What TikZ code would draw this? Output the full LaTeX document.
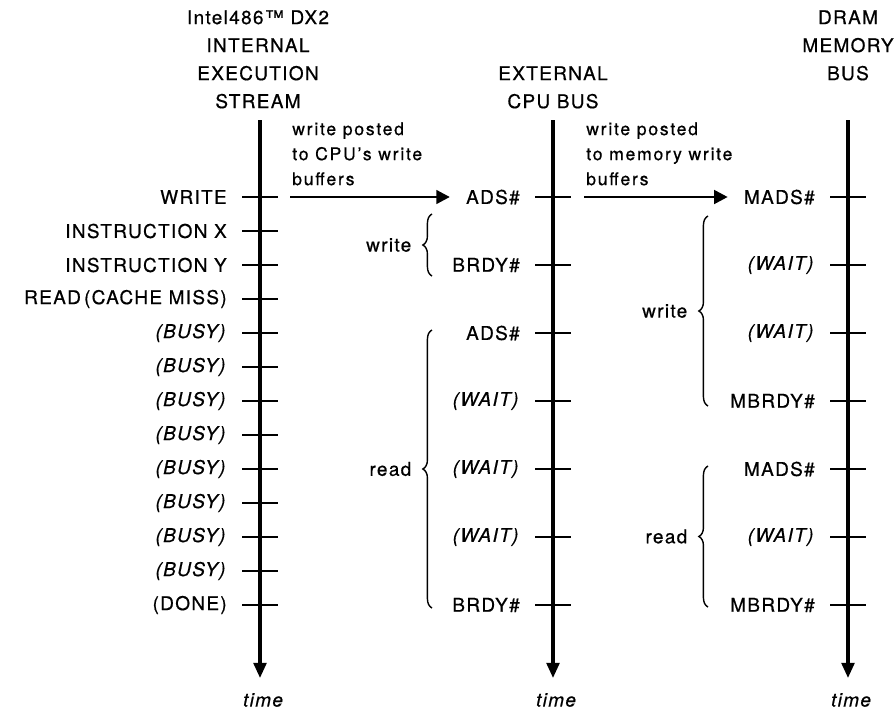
\documentclass[tikz,border=0pt]{standalone}
\usepackage{fontspec}
\setmainfont{TeX Gyre Heros}[LetterSpace=7,FakeBold=0.6]
\usetikzlibrary{arrows.meta,decorations.pathreplacing}

\newcommand{\busy}{\textit{(BUSY)}}
\newcommand{\waitcyc}{\textit{(WAIT)}}

\tikzset{
  axis/.style={line width=2.3pt,-{Triangle[length=0.38cm,width=0.32cm]}},
  ticmark/.style={line width=2pt},
  sig/.style={anchor=east,inner sep=0pt,font=\fontsize{13.5}{16}\selectfont},
  head/.style={anchor=north,align=center,inner sep=0pt,font=\fontsize{13.5}{19.9}\selectfont},
  clock/.style={inner sep=0pt,font=\fontsize{13.5}{16}\selectfont\itshape},
  note/.style={anchor=north west,align=left,inner sep=0pt,
    font=\fontsize{12.5}{17.8}\selectfont\addfontfeature{LetterSpace=10}},
  post/.style={line width=2pt,-{Triangle[length=0.34cm,width=0.34cm]},shorten >=0.4cm},
  grp/.style={decorate,decoration={brace,amplitude=6.5pt},line width=1pt},
  grplabel/.style={midway,left=0.5cm,inner sep=0pt,font=\fontsize{13.5}{16}\selectfont},
}

\begin{document}
\begin{tikzpicture}[x=0.025cm,y=-0.025cm]
\useasboundingbox (0,0) rectangle (894,725);

% column headings
\node[head] (ex-head) at (258,10) {Intel486™ DX2\\INTERNAL\\EXECUTION\\STREAM};
\node[head] (cpu-head) at (553,66) {EXTERNAL\\CPU BUS};
\node[head] (mem-head) at (848,10) {DRAM\\MEMORY\\BUS};

% the three time lines
\foreach \name/\x in {ex/260,cpu/553,mem/848}{
  \coordinate (\name-top) at (\x,120);
  \coordinate (\name-end) at (\x,678);
  \draw[axis] (\name-top) -- (\name-end);
  \node[clock] (\name-time) at ({\x+3},700) {time};
}

% internal execution stream, one tick per clock
\foreach \k/\txt in {0/WRITE,1/INSTRUCTION X,2/INSTRUCTION Y,
    3/READ\,(CACHE MISS),4/\busy,5/\busy,6/\busy,7/\busy,
    8/\busy,9/\busy,10/\busy,11/\busy,12/(DONE)}{
  \draw[ticmark] (242,{197+34*\k}) -- (278,{197+34*\k});
  \node[sig] (ex-\k) at (227,{197+34*\k}) {\txt};
}

% external cpu bus
\foreach \k/\txt in {0/ADS\#,2/BRDY\#,4/ADS\#,6/\waitcyc,
    8/\waitcyc,10/\waitcyc,12/BRDY\#}{
  \draw[ticmark] (535,{197+34*\k}) -- (571,{197+34*\k});
  \node[sig] (cpu-\k) at (520,{197+34*\k}) {\txt};
}

% dram memory bus
\foreach \k/\txt in {0/MADS\#,2/\waitcyc,4/\waitcyc,6/MBRDY\#,
    8/MADS\#,10/\waitcyc,12/MBRDY\#}{
  \draw[ticmark] (830,{197+34*\k}) -- (866,{197+34*\k});
  \node[sig] (mem-\k) at (815,{197+34*\k}) {\txt};
}

% posted writes
\coordinate (wr-out) at (290,197);
\coordinate (ads-out) at (584,197);
\draw[post] (wr-out) -- (cpu-0);
\draw[post] (ads-out) -- (mem-0);
\node[note] (cpu-note) at (292,122) {write posted\\to CPU's write\\buffers};
\node[note] (mem-note) at (586,122) {write posted\\to memory write\\buffers};

% bus cycles
\draw[grp] (432,276) -- node[grplabel] (cpu-wr) {write} (432,214);
\draw[grp] (432,608) -- node[grplabel] (cpu-rd) {read} (432,330);
\draw[grp] (708,406) -- node[grplabel] (mem-wr) {write} (708,216);
\draw[grp] (708,607) -- node[grplabel] (mem-rd) {read} (708,466);
\end{tikzpicture}
\end{document}
